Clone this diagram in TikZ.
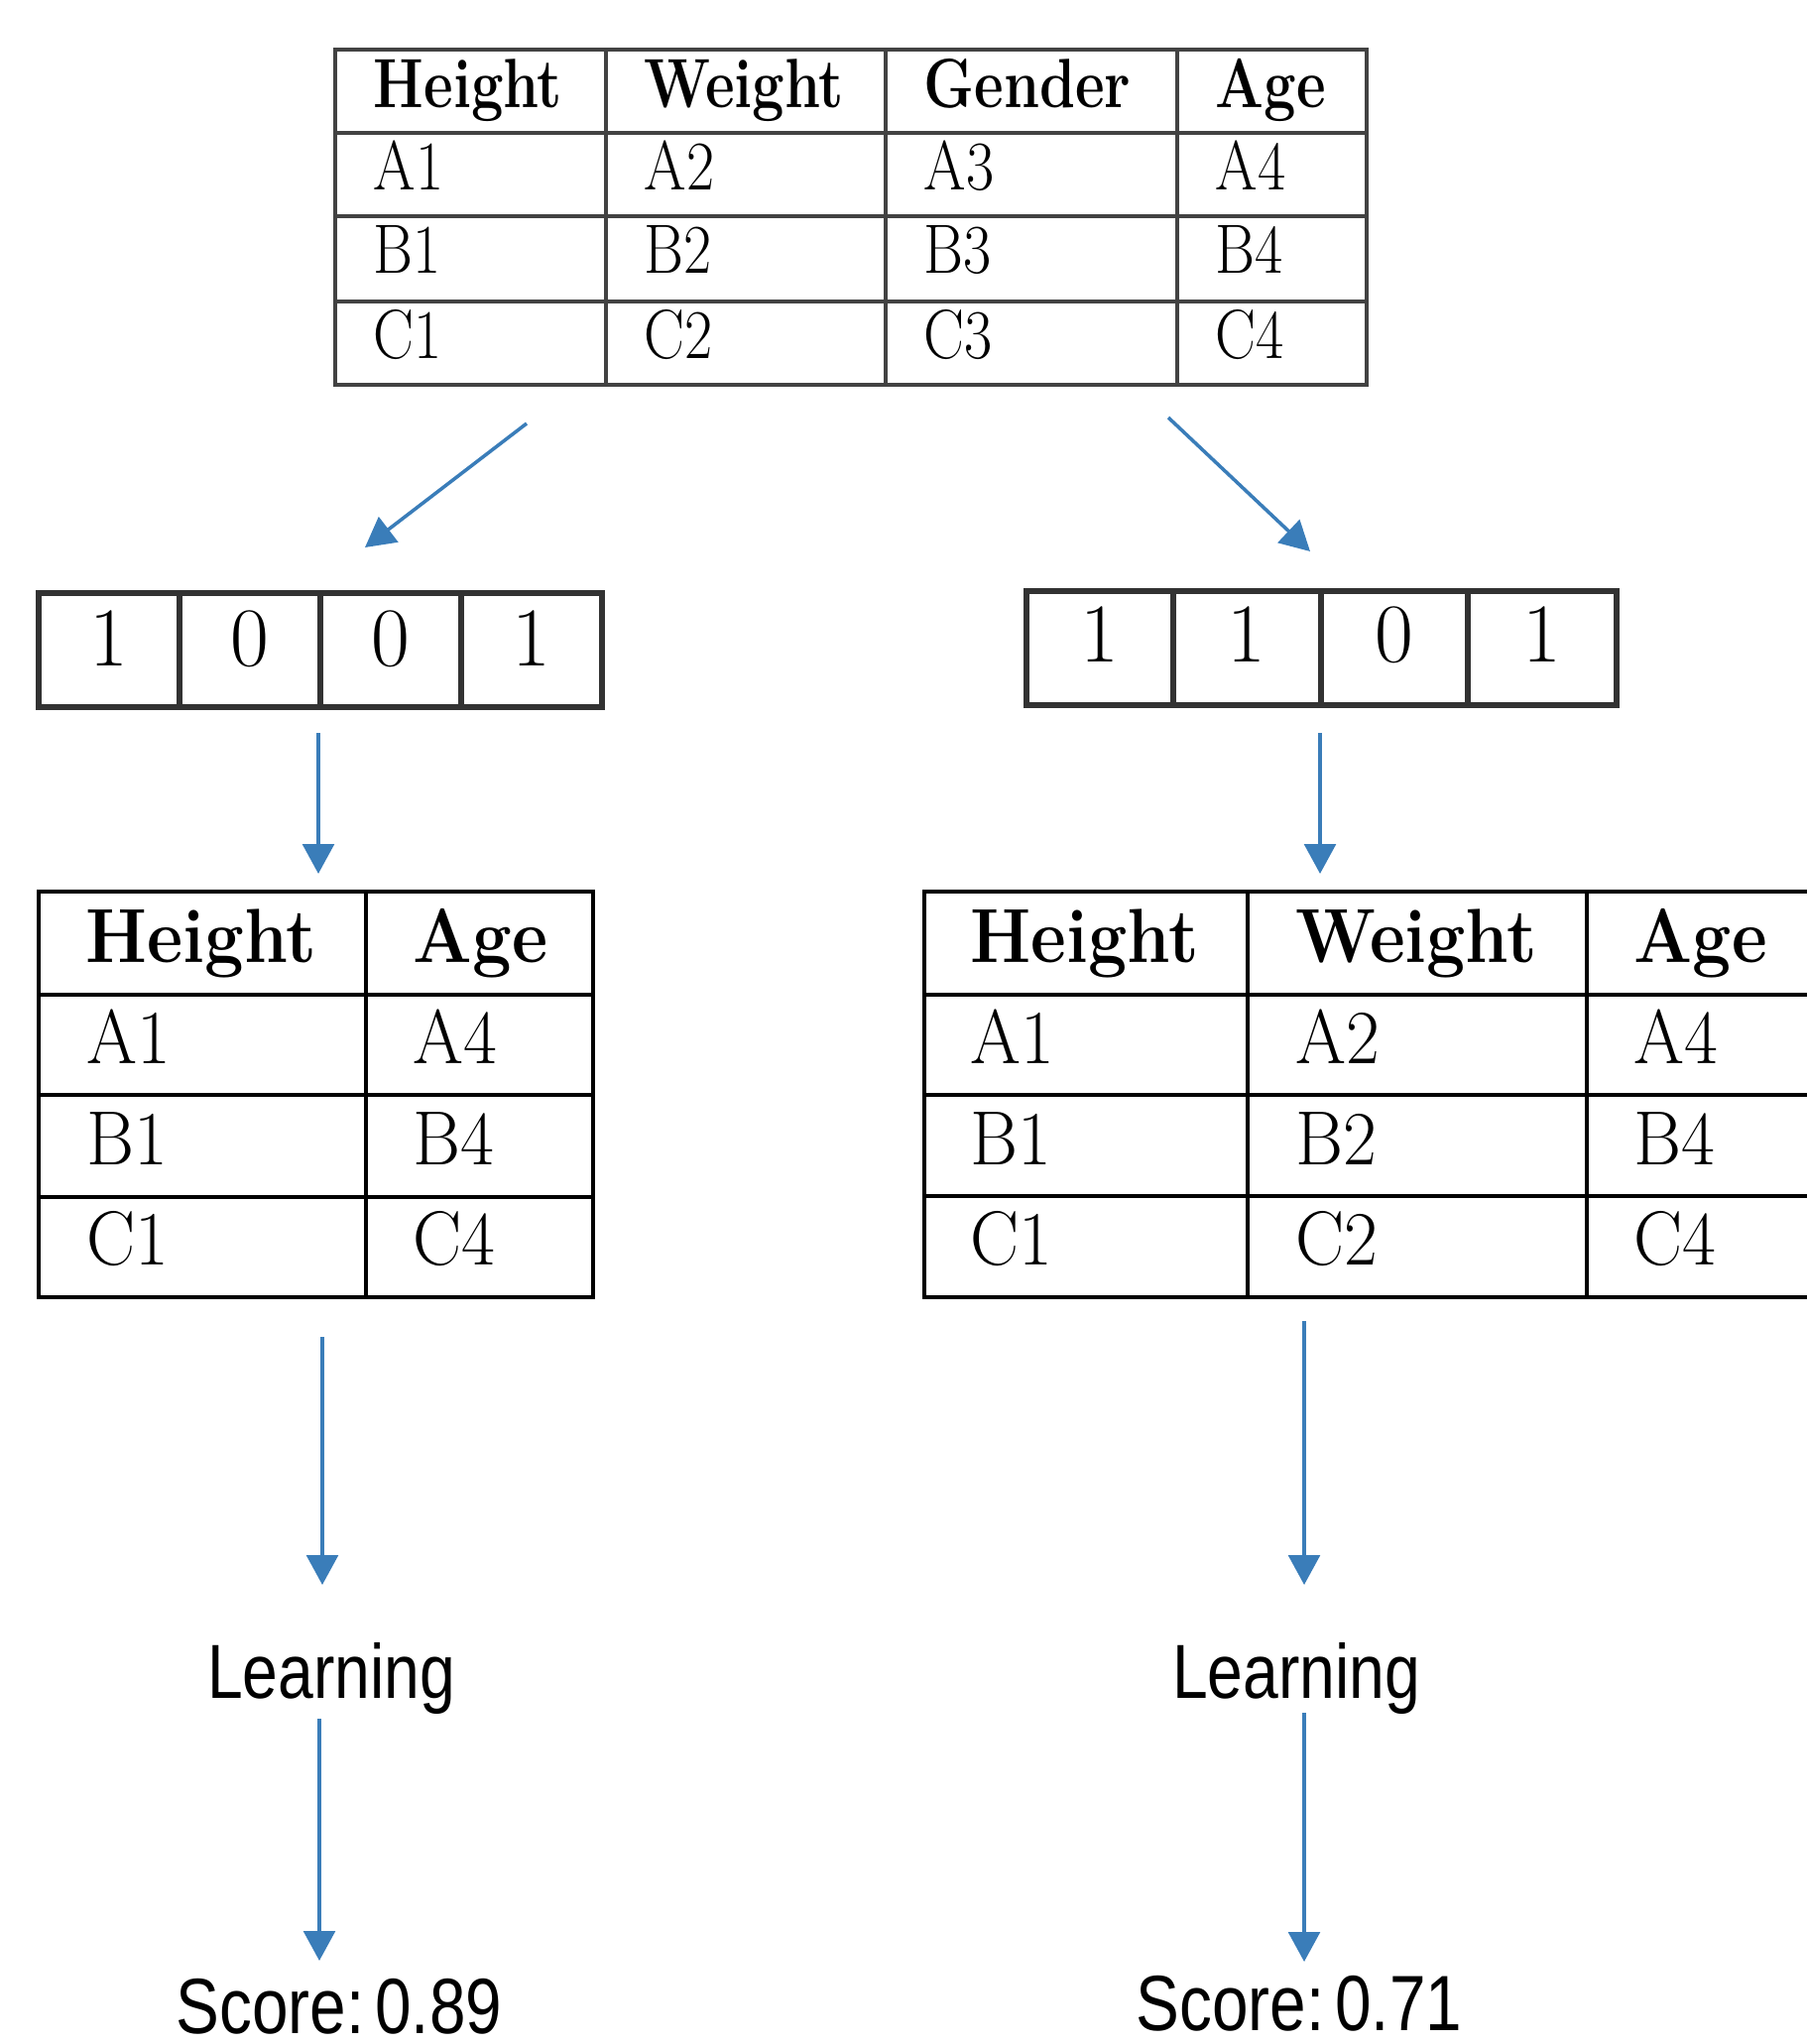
\documentclass[tikz,border=0pt]{standalone}
\usepackage{fontspec}
\newfontfamily\labelfont{Liberation Sans}
\usetikzlibrary{arrows.meta}

\definecolor{arrowblue}{RGB}{58,125,185}
\definecolor{gridgray}{RGB}{66,66,66}
\definecolor{boxgray}{RGB}{50,50,50}

% narrow the glyphs like the scanned tables
\newcommand{\squeeze}[2][0.85]{\scalebox{#1}[1]{#2}}

\tikzset{
  flow/.style={draw=arrowblue, line width=1pt, -{Triangle[width=9pt,length=8.5pt]}},
  topgrid/.style={draw=gridgray, line width=1.1pt},
  bitgrid/.style={draw=boxgray, line width=1.5pt},
  subgrid/.style={draw=black, line width=0.9pt},
  tophead/.style={anchor=base west, inner sep=0pt, font=\fontsize{20}{20}\selectfont\bfseries},
  topbody/.style={anchor=base west, inner sep=0pt, font=\fontsize{20}{20}\selectfont},
  bitdigit/.style={inner sep=0pt, font=\fontsize{24}{24}\selectfont},
  subhead/.style={anchor=base west, inner sep=0pt, font=\fontsize{22}{22}\selectfont\bfseries},
  subbody/.style={anchor=base west, inner sep=0pt, font=\fontsize{22}{22}\selectfont},
  steplabel/.style={anchor=base, inner sep=0pt, font=\labelfont\fontsize{22}{22}\selectfont},
}

\begin{document}
\begin{tikzpicture}[x=0.01cm, y=-0.01cm]
		\useasboundingbox (0,0) rectangle (1821,2061);

		% full table
		\draw[topgrid] (338,50) rectangle (1378,388);
		\foreach \x in {611,893,1187} \draw[topgrid] (\x,50) -- (\x,388);
		\foreach \y in {134,218,304} \draw[topgrid] (338,\y) -- (1378,\y);
		\foreach \x/\t [count=\i] in {338/Height,611/Weight,893/Gender,1187/Age}
			\node[tophead] (top-h\i) at (\x+38,109) {\squeeze[0.82]{\t}};
		\foreach \r/\y in {A/192,B/276,C/362}
			\foreach \x [count=\i] in {338,611,893,1187}
				\node[topbody] (top-\r\i) at (\x+38,\y) {\squeeze[0.87]{\r\i}};

		% left mask
		\draw[bitgrid] (39,598) rectangle (607,713);
		\foreach \x in {181,323,465} \draw[bitgrid] (\x,598) -- (\x,713);
		\foreach \x/\d [count=\i] in {110/1,252/0,394/0,536/1}
			\node[bitdigit] (maskL-\i) at (\x,644) {\d};

		% right mask
		\draw[bitgrid] (1035,596) rectangle (1630,711);
		\foreach \x in {1183,1332,1480} \draw[bitgrid] (\x,596) -- (\x,711);
		\foreach \x/\d [count=\i] in {1109/1,1257/1,1406/0,1555/1}
			\node[bitdigit] (maskR-\i) at (\x,640) {\d};

		% left subset
		\draw[subgrid] (39,899) rectangle (598,1308);
		\draw[subgrid] (369,899) -- (369,1308);
		\foreach \y in {1003,1104,1207} \draw[subgrid] (39,\y) -- (598,\y);
		\node[subhead] (subL-h1) at (86,970) {\squeeze[0.91]{Height}};
		\node[subhead] (subL-h2) at (416,970) {\squeeze[0.91]{Age}};
		\foreach \r/\y in {A/1072,B/1174,C/1275} {
			\node[subbody] (subL-\r1) at (87,\y) {\squeeze[0.95]{\r1}};
			\node[subbody] (subL-\r4) at (416,\y) {\squeeze[0.95]{\r4}};
		}

		% right subset
		\draw[subgrid] (1900,899) -- (932,899) -- (932,1308) -- (1900,1308);
		\foreach \x in {1258,1600} \draw[subgrid] (\x,899) -- (\x,1308);
		\foreach \y in {1003,1104,1206} \draw[subgrid] (932,\y) -- (1900,\y);
		\foreach \x/\t [count=\i] in {978/Height,1306/Weight,1647/Age}
			\node[subhead] (subR-h\i) at (\x,970) {\squeeze[0.9]{\t}};
		\foreach \r/\y in {A/1072,B/1174,C/1275}
			\foreach \x/\c in {978/1,1306/2,1647/4}
				\node[subbody] (subR-\r\c) at (\x,\y) {\squeeze[0.95]{\r\c}};

		% learning and scores
		\node[steplabel] (learnL) at (334,1712) {\squeeze[0.83]{Learning}};
		\node[steplabel] (learnR) at (1307,1712) {\squeeze[0.83]{Learning}};
		\node[steplabel, font=\labelfont\fontsize{22.5}{22.5}\selectfont] (scoreL) at (342,2050) {\squeeze[0.83]{Score:\,0.89}};
		\node[steplabel, font=\labelfont\fontsize{22.5}{22.5}\selectfont] (scoreR) at (1310,2047) {\squeeze[0.83]{Score:\,0.71}};

		% arrow ends
		\coordinate (splitL-s) at (531,427);   \coordinate (splitL-e) at (368,552);
		\coordinate (splitR-s) at (1178,421);  \coordinate (splitR-e) at (1321,556);
		\coordinate (maskL-s) at (321,739);    \coordinate (maskL-e) at (321,881);
		\coordinate (maskR-s) at (1331,739);   \coordinate (maskR-e) at (1331,881);
		\coordinate (fitL-s) at (325,1348);    \coordinate (fitL-e) at (325,1598);
		\coordinate (fitR-s) at (1315,1332);   \coordinate (fitR-e) at (1315,1598);
		\coordinate (evalL-s) at (322,1733);   \coordinate (evalL-e) at (322,1977);
		\coordinate (evalR-s) at (1315,1727);  \coordinate (evalR-e) at (1315,1978);

		% arrows
		\draw[flow] (splitL-s) -- (splitL-e);
		\draw[flow] (splitR-s) -- (splitR-e);
		\draw[flow] (maskL-s) -- (maskL-e);
		\draw[flow] (maskR-s) -- (maskR-e);
		\draw[flow] (fitL-s) -- (fitL-e);
		\draw[flow] (fitR-s) -- (fitR-e);
		\draw[flow] (evalL-s) -- (evalL-e);
		\draw[flow] (evalR-s) -- (evalR-e);
	\end{tikzpicture}
\end{document}
